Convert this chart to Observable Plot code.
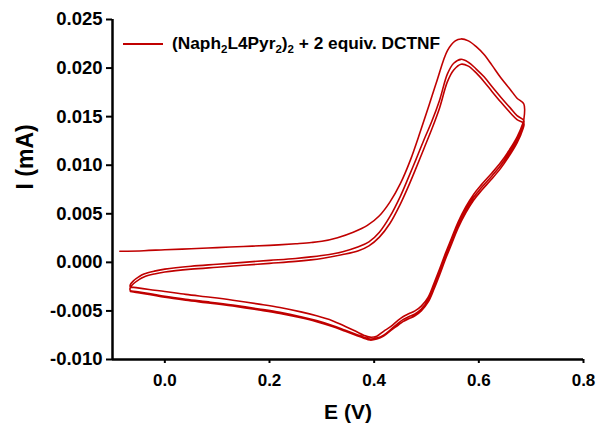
<!DOCTYPE html>
<html>
<head>
<meta charset="utf-8">
<script src="https://cdn.jsdelivr.net/npm/d3@7"></script>
<script src="https://cdn.jsdelivr.net/npm/@observablehq/plot@0.6"></script>
<style>
  body { margin: 0; background: #fff; }
  #wrap { position: relative; width: 597px; height: 429px; font-family: "Liberation Sans", Arial, sans-serif; }
  #legend { position: absolute; left: 123px; top: 33px; display: flex; align-items: center; font-weight: bold; font-size: 17.3px; color: #000; white-space: nowrap; }
  #legend svg { margin-right: 9px; }
  #legend sub { font-size: 11.5px; vertical-align: -4px; line-height: 0; }
</style>
</head>
<body>
<div id="wrap"><div id="legend"><svg width="40" height="4"><line x1="0" y1="2" x2="40" y2="2" stroke="#c00000" stroke-width="1.8"/></svg><span>(Naph<sub>2</sub>L4Pyr<sub>2</sub>)<sub>2</sub> + 2 equiv. DCTNF</span></div></div>
<script>
// tick values
const xTicks = [0.0, 0.2, 0.4, 0.6, 0.8];
const yTicks = [-0.010, -0.005, 0.000, 0.005, 0.010, 0.015, 0.020, 0.025];

// Scan 1 forward (initial sweep)
const fwd1E = [-0.086, -0.04, 0.0, 0.05, 0.1, 0.15, 0.2, 0.25, 0.28, 0.3, 0.33, 0.36, 0.387, 0.41, 0.43, 0.45, 0.469, 0.489, 0.505, 0.52, 0.54, 0.555, 0.566, 0.58, 0.595, 0.61, 0.625, 0.642, 0.66, 0.673, 0.686, 0.686];
const fwd1I = [0.00114, 0.0012, 0.0013, 0.0014, 0.00152, 0.00163, 0.00175, 0.00192, 0.00204, 0.00217, 0.00254, 0.0031, 0.0038, 0.0048, 0.0062, 0.0081, 0.0105, 0.0136, 0.0162, 0.0187, 0.0218, 0.0228, 0.0230, 0.0228, 0.0222, 0.0214, 0.0203, 0.0190, 0.0178, 0.0169, 0.0163, 0.0147];

// Reverse sweeps (shared potentials)
const revE = [0.684, 0.673, 0.655, 0.642, 0.625, 0.605, 0.59, 0.575, 0.56, 0.548, 0.536, 0.525, 0.514, 0.503, 0.49, 0.478, 0.466, 0.455, 0.445, 0.432, 0.418, 0.405, 0.392, 0.38, 0.365, 0.345, 0.32, 0.29, 0.26, 0.22, 0.18, 0.13, 0.087, 0.04, 0.0, -0.03, -0.055, -0.066];
const rev1I = [0.0143, 0.0129, 0.0113, 0.0103, 0.0092, 0.0080, 0.0070, 0.0057, 0.0041, 0.0025, 0.0009, -0.0007, -0.0022, -0.0036, -0.0045, -0.0050, -0.0053, -0.0056, -0.0060, -0.0066, -0.0071, -0.0076, -0.0077, -0.0075, -0.0071, -0.0066, -0.0060, -0.0055, -0.0051, -0.00465, -0.0043, -0.0039, -0.0036, -0.0033, -0.0030, -0.0028, -0.0026, -0.0025];
const rev2I = [0.0140, 0.0126, 0.0110, 0.0100, 0.0089, 0.0077, 0.0067, 0.0054, 0.0038, 0.0022, 0.0006, -0.0010, -0.0025, -0.0039, -0.0048, -0.0053, -0.0056, -0.0059, -0.0063, -0.0069, -0.0075, -0.0078, -0.0079, -0.0077, -0.0074, -0.0070, -0.0065, -0.0060, -0.0056, -0.00515, -0.0048, -0.0044, -0.0041, -0.0038, -0.0035, -0.0032, -0.0030, -0.0029];
const rev3I = [0.0137, 0.0123, 0.0107, 0.0097, 0.0086, 0.0074, 0.0064, 0.0051, 0.0035, 0.0019, 0.0003, -0.0013, -0.0028, -0.0041, -0.0050, -0.0055, -0.0058, -0.0061, -0.0065, -0.0070, -0.0076, -0.0079, -0.0080, -0.0078, -0.0075, -0.0071, -0.0066, -0.0061, -0.0057, -0.00525, -0.0049, -0.0045, -0.0042, -0.0039, -0.0036, -0.0033, -0.0031, -0.0030];

// Forward sweeps 2 and 3 (shared potentials)
const fwdE = [-0.066, -0.06, -0.05, -0.04, -0.02, 0.0, 0.05, 0.1, 0.15, 0.2, 0.25, 0.3, 0.34, 0.37, 0.39, 0.41, 0.43, 0.45, 0.466, 0.48, 0.495, 0.51, 0.525, 0.54, 0.552, 0.566, 0.58, 0.595, 0.61, 0.625, 0.642, 0.66, 0.673, 0.686];
const fwd2I = [-0.0023, -0.0019, -0.0015, -0.0012, -0.0009, -0.0007, -0.0004, -0.0002, 0.0000, 0.0002, 0.0004, 0.0007, 0.0011, 0.0016, 0.0021, 0.0031, 0.0047, 0.0068, 0.0088, 0.0106, 0.0126, 0.0145, 0.0167, 0.0194, 0.0205, 0.0209, 0.0206, 0.0199, 0.0191, 0.0181, 0.0170, 0.0159, 0.0151, 0.0146];
const fwd3I = [-0.0026, -0.0022, -0.0018, -0.0015, -0.0012, -0.0010, -0.0007, -0.0005, -0.0003, -0.0001, 0.0001, 0.0004, 0.0008, 0.0012, 0.0017, 0.0026, 0.0040, 0.0060, 0.0079, 0.0097, 0.0117, 0.0137, 0.0159, 0.0186, 0.0198, 0.0204, 0.0202, 0.0195, 0.0186, 0.0176, 0.0165, 0.0154, 0.0147, 0.0143];

const segs = [
  [fwd1E, fwd1I], [revE, rev1I], [fwdE, fwd2I], [revE, rev2I], [fwdE, fwd3I], [revE, rev3I]
];
const data = [];
segs.forEach(([es, is]) => es.forEach((e, i) => data.push({E: e, I: is[i]})));

const red = "#c00000";
const chart = Plot.plot({
  width: 597,
  height: 429,
  marginLeft: 112,
  marginRight: 14,
  marginTop: 19,
  marginBottom: 70,
  style: {fontFamily: "'Liberation Sans', Arial, sans-serif", fontWeight: "bold", fontSize: "17px", color: "#000", background: "#fff"},
  x: {domain: [-0.1, 0.8]},
  y: {domain: [-0.01, 0.025]},
  marks: [
    Plot.line(data, {x: "E", y: "I", stroke: red, strokeWidth: 1.6, curve: "catmull-rom"}),
    Plot.axisX({ticks: xTicks, tickFormat: d => d.toFixed(1), tickSize: 4, tickPadding: 10, strokeWidth: 2, label: null}),
    Plot.axisY({ticks: yTicks, tickFormat: d => d.toFixed(3), tickSize: 6, tickPadding: 4, strokeWidth: 2, fontSize: 18.5, label: null}),
    Plot.ruleX([-0.1], {strokeWidth: 2.5}),
    Plot.ruleY([-0.01], {strokeWidth: 2.5}),
    Plot.text(["E (V)"], {frameAnchor: "bottom", lineAnchor: "middle", dy: 53, fontSize: 21, fontWeight: "bold"}),
    Plot.text(["I (mA)"], {frameAnchor: "left", lineAnchor: "middle", rotate: -90, dx: -87, fontSize: 23, fontWeight: "bold"})
  ]
});
document.getElementById("wrap").prepend(chart);
</script>
</body>
</html>
